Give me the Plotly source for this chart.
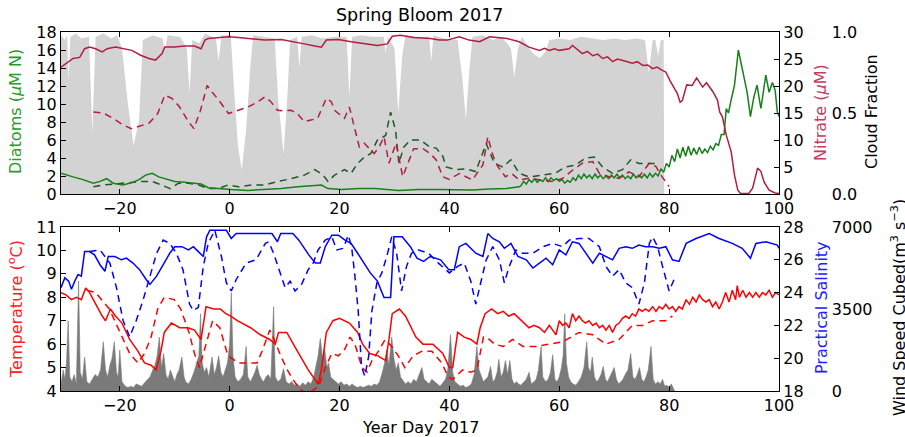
import plotly.graph_objects as go

# ---------------- DATA ----------------
# Top panel
cloud_day = [-30.7, -30, -29.6, -29.3, -29.0, -28, -27, -25.6, -25.0, -24.4, -23, -21.5, -20.5, -19.6, -18.5,
             -17.5, -16.5, -15.8, -14, -12.2, -11.8, -11.3, -9, -7.8, -7.3, -6.8, -5.5, -4.5, -2.5, -2.0, -1.5,
             0.2, 0.7, 1.5, 2.2, 3.0, 3.8, 4.3, 6, 8.2, 8.8, 9.8, 10.5, 11.0, 12.3, 12.7, 13.1, 15, 17, 19,
             21.3, 21.8, 22.3, 24, 26, 28.1, 28.4, 28.8, 30, 30.7, 31.4, 32, 34, 36.3, 36.7, 37.1, 39, 41.5,
             42.4, 43.0, 43.6, 44.2, 46, 48, 49.5, 51.2, 51.8, 52.5, 53.2, 54.5, 55.5, 56.5, 57.5, 58.2, 60,
             62, 64, 66, 68, 70, 72, 74, 75.6, 76.3, 77.0, 77.5, 78.0, 78.5, 79.0, 79.1]
cloud_val = [0.98, 0.95, 0.98, 0.7, 0.97, 0.99, 0.96, 0.97, 0.38, 0.97, 0.99, 0.96, 0.98, 0.9, 0.55,
             0.3, 0.45, 0.95, 0.98, 0.96, 0.88, 0.98, 0.97, 0.9, 0.62, 0.95, 0.93, 0.99, 0.96, 0.82, 0.98,
             0.98, 0.7, 0.3, 0.15, 0.4, 0.8, 0.98, 0.97, 0.96, 0.6, 0.25, 0.6, 0.95, 0.97, 0.78, 0.97, 0.98, 0.96, 0.97,
             0.97, 0.6, 0.97, 0.98, 0.97, 0.97, 0.87, 0.97, 0.9, 0.5, 0.85, 0.98, 0.97, 0.97, 0.82, 0.98, 0.96, 0.95,
             0.7, 0.46, 0.75, 0.97, 0.98, 0.95, 0.97, 0.9, 0.72, 0.9, 0.97, 0.9, 0.86, 0.84, 0.88, 0.95, 0.96,
             0.95, 0.97, 0.96, 0.95, 0.96, 0.95, 0.96, 0.95, 0.75, 0.95, 0.95, 0.85, 0.95, 0.95, 0.0]

diat_day = [-30.7, -29.7, -28.5, -26.7, -24.8, -23.6, -22.4, -21.2, -19.4, -17.6, -16.5, -15.3, -14.1, -12.9,
            -11.7, -10, -8.2, -6.4, -5.2, -3.9, -2.1, 0.3, 3.3, 6.4, 9.4, 12.4, 15.5, 16.7, 17.9, 20.4, 23.5,
            26.5, 30.7, 34.4, 38, 41.2, 44.2, 47.3, 50.3, 52.7,
            53, 53.5, 54, 54.5, 55, 55.5, 56, 56.5, 57, 57.5, 58, 58.5, 59, 59.5, 60, 60.5, 61, 61.5, 62, 62.5,
            63, 63.5, 64, 64.5, 65, 65.5, 66, 66.5, 67, 67.5, 68, 68.5, 69, 69.5, 70, 70.5, 71, 71.5, 72, 72.5,
            73, 73.5, 74, 74.5, 75, 75.5, 76, 76.5, 77, 77.5, 78, 78.5, 79, 79.5, 80, 80.5, 81, 81.5, 82, 82.5,
            83, 83.5, 84, 84.5, 85, 85.5, 86, 86.5, 87, 87.5, 88, 88.5, 89, 89.5, 90, 90.4, 90.8, 91.2, 91.9,
            92.6, 93.3, 93.8, 94.2, 94.8, 95.4, 96.0, 96.7, 97.6, 98.2, 98.8, 99.3, 99.7, 100]
diat_val = [2.3, 2.1, 1.9, 1.6, 1.2, 1.4, 1.7, 1.2, 1.0, 1.3, 1.6, 2.1, 2.3, 1.9,
            1.7, 1.4, 1.3, 1.2, 1.1, 0.7, 0.6, 0.5, 0.4, 0.5, 0.6, 0.8, 1.0, 1.0, 0.6, 0.5, 0.6,
            0.6, 0.4, 0.5, 0.5, 0.45, 0.45, 0.55, 0.6, 0.8,
            0.9, 1.4, 1.1, 1.6, 1.3, 1.7, 1.3, 1.6, 1.4, 1.8, 1.4, 1.8, 1.5, 1.7, 1.4, 1.6, 1.2, 1.5, 1.3, 1.8,
            1.5, 2.1, 1.7, 2.2, 1.8, 2.1, 1.7, 2.2, 1.8, 2.1, 1.7, 2.0, 1.7, 2.1, 1.8, 2.2, 1.8, 2.1, 1.7, 2.0,
            1.7, 2.2, 1.8, 2.1, 1.8, 2.2, 1.8, 2.3, 1.9, 2.3, 2.0, 2.8, 2.4, 3.4, 3.0, 4.3, 3.6, 5.0, 4.0, 5.2,
            4.2, 5.3, 4.3, 5.1, 4.4, 5.2, 4.5, 5.0, 4.6, 5.3, 4.9, 5.6, 5.4, 6.6, 6.6, 9.5, 9.0, 10.2, 12.1,
            16.0, 14.0, 12.8, 11.3, 8.6, 10.7, 12.1, 9.5, 13.2, 11.3, 12.4, 11.5, 9.1, 8.6]

diat2_day = [-24.8, -23, -21.2, -19.4, -17.6, -15.8, -14.1, -12.3, -10.8, -9.3, -7.5, -5.6, -3.9, -2.1, -0.3,
             1.6, 4, 6.4, 8.8, 11.2, 13.6, 15.5, 17, 17.9, 19.1, 20.9, 22.1, 23.3, 24.5, 25.7, 26.9, 28.4,
             29.3, 30.2, 30.8, 31.7, 32.9, 34.7, 36.5, 37.6, 38.8, 39.4, 41.2, 43, 44.8, 46.7, 48.2, 49.7,
             51.2, 52.7, 54.5, 56.9, 59.3, 61.1, 62.9, 64.8, 66.4, 67.9, 69.7, 71.5, 73, 74.5, 76.4, 77.9]
diat2_val = [0.8, 1.0, 1.1, 1.2, 1.3, 1.4, 1.4, 1.0, 0.6, 1.2, 1.2, 1.0, 0.6, 0.6, 1.0,
             0.8, 1.0, 1.0, 1.4, 1.7, 2.1, 2.7, 2.1, 1.4, 2.1, 2.7, 2.3, 3.4, 4.1, 4.5, 6.0, 6.5,
             9.1, 7.1, 3.4, 5.2, 6.0, 6.0, 5.2, 5.1, 4.2, 3.0, 2.7, 2.8, 2.5, 5.6, 3.4, 3.0,
             3.8, 2.3, 1.9, 2.1, 2.3, 3.0, 3.2, 4.0, 4.1, 3.0, 2.3, 2.7, 3.8, 3.4, 3.4, 3.4]

nit_day = [-30.7, -29.7, -28.5, -27.3, -26.4, -25.5, -24.4, -23.2, -22.3, -20.8, -19.3, -17.8, -16.2, -14.7,
           -13.5, -12.3, -11.8, -10, -8.2, -6.4, -5.2, -4.5, -3.9, -2.1, -0.2, 1.6, 3.3, 6.4, 9.4, 11.2, 13.6,
           15.5, 16.7, 17.6, 19.8, 22.1, 24.5, 26.9, 28.7, 29.6, 31.1, 33.5, 36.5, 38.2, 39.6, 41.8, 43.6, 45.5,
           47.3, 50.5, 52.7, 54.5, 56.4, 57.3, 58.2, 59.1, 60, 61.8, 62.4, 63.3, 64.2, 65.1, 66.1, 67, 67.9,
           68.8, 69.7, 70.6, 71.5, 72.4, 73.3, 74.2, 75.2, 76.1, 77, 77.8, 78.6, 79.4, 80.2, 81.5, 82.0, 82.4,
           83.2, 84.2, 85.0, 86.1, 86.8, 87.5, 88.0, 88.8, 89.2, 89.7, 90.4, 91.3, 91.9, 92.5, 93.0, 94.5,
           95.2, 96.1, 96.7, 97.3, 98.2, 99.3, 100]
nit_val = [23.5, 24.2, 25.1, 25.3, 26.9, 27.2, 26.9, 26.3, 26.9, 27.2, 26.9, 26.6, 25.7, 25.1,
           24.8, 26.0, 27.2, 27.2, 27.4, 27.4, 26.9, 28.5, 28.8, 29.0, 29.1, 29.0, 28.8, 28.5, 28.6, 28.2, 27.8,
           27.4, 27.2, 28.5, 28.6, 28.2, 27.8, 27.5, 27.8, 29.2, 29.4, 29.0, 28.8, 28.5, 28.5, 29.1, 28.5, 28.2,
           29.1, 28.8, 28.2, 27.2, 26.6, 27.0, 26.6, 26.9, 26.6, 26.9, 27.5, 26.7, 26.0, 26.4, 25.6, 25.9, 25.1,
           25.4, 24.5, 25.0, 24.8, 24.5, 24.2, 24.5, 23.8, 23.9, 23.2, 23.5, 23.0, 22.6, 20.9, 18.6, 17.0, 17.3,
           20.2, 20.1, 21.5, 19.8, 20.6, 19.6, 18.9, 17.4, 15.2, 14.3, 10.9, 7.8, 3.5, 0.7, 0.1, 0.1,
           1.1, 4.8, 4.2, 2.2, 0.7, 0.2, 0.1]

nit2_day = [-24.8, -23, -21.2, -19.4, -17.9, -16.4, -14.7, -13.1, -11.8, -10.5, -9.1, -7.5, -6.5, -5.3, -4.1,
            -3.2, -2.0, -0.2, 1.6, 3.3, 5.2, 6.4, 7.5, 8.7, 9.9, 11.2, 12.3, 13.6, 14.8, 16, 17.6, 18.5, 19.1,
            20.9, 21.8, 22.7, 23.6, 24.5, 26.3, 27.2, 28.1, 29, 30.3, 31.5, 32.4, 33.5, 35.2, 36.5, 37.6, 38.8,
            40, 41.8, 44.2, 46.1, 47, 47.9, 48.8, 50.2, 51.3, 52.7, 54.5, 56.4, 58.8, 60.6, 62.4, 64.2, 66.1,
            67.3, 69.1, 70.9, 72.7, 74.5, 76.4, 77.6, 78.5, 80]
nit2_val = [15.2, 15.0, 14.0, 12.8, 12.1, 12.6, 13.1, 14.9, 18.3, 17.7, 16.1, 13.4, 12.1, 15.5, 20.1,
            18.9, 17.4, 14.9, 15.5, 16.1, 17.1, 18.0, 17.1, 15.5, 15.4, 15.5, 14.9, 13.4, 13.7, 14.0, 17.7, 17.1, 15.5,
            14.0, 16.1, 12.4, 8.7, 9.4, 7.5, 8.7, 10.6, 5.7, 9.4, 3.2, 5.7, 8.4, 8.4, 7.5, 6.3, 3.2,
            2.7, 3.8, 2.6, 5.4, 10.6, 7.2, 5.1, 3.2, 3.8, 2.6, 2.9, 2.6, 2.3, 2.9, 4.4, 5.7, 6.0,
            3.8, 3.2, 2.9, 4.1, 3.2, 5.7, 5.1, 3.5, 1.4]

# Bottom panel
wind_day = [-30.7, -30.3, -30, -29.7, -29.4, -29.1, -28.7, -28.3, -27.9, -27.5, -27.2, -26.8, -26.4, -26, -25.5,
            -25, -24.5, -24, -23.5, -23, -22.6, -22.2, -21.8, -21.4, -21, -20.6, -20.3, -20, -19.6, -19, -18.5,
            -18, -17.5, -17, -16.5, -16, -15.5, -15, -14.5, -14, -13.6, -13.2, -12.8, -12.4, -12, -11.6, -11.2,
            -10.8, -10.4, -10, -9.6, -9.2, -8.7, -8.3, -8, -7.5, -7, -6.5, -6, -5.6, -5.3, -5, -4.6, -4.2, -3.8,
            -3.2, -2.8, -2.4, -2, -1.6, -1.2, -0.8, -0.4, 0, 0.3, 0.6, 1, 1.5, 2, 2.5, 3, 3.3, 3.8, 4.2, 4.6, 5,
            5.4, 5.8, 6.2, 6.6, 7, 7.5, 8, 8.3, 8.8, 9.3, 9.8, 10.3, 10.8, 11.3, 11.8, 12.3, 12.8, 13.3, 13.8,
            14.3, 14.8, 15.3, 15.7, 16.1, 16.5, 16.9, 17.3, 17.7, 18, 18.4, 18.8, 19.3, 19.8, 20.3, 20.8, 21.3,
            21.8, 22.3, 22.8, 23.3, 23.8, 24.3, 24.8, 25.3, 25.8, 26.3, 26.8, 27.3, 27.8, 28.2, 28.6, 29, 29.5,
            29.9, 30.3, 30.7, 31.1, 31.6, 32, 32.5, 33, 33.5, 34, 34.5, 35, 35.4, 35.8, 36.3, 36.8, 37.3, 37.8,
            38.3, 38.8, 39.3, 39.7, 40.2, 40.6, 41, 41.5, 42, 42.5, 43, 43.5, 44, 44.5, 45, 45.4, 45.8, 46.2,
            46.6, 47, 47.5, 47.9, 48.3, 48.7, 49, 49.4, 49.8, 50.2, 50.6, 51, 51.4, 51.8, 52.2, 52.6, 53, 53.5,
            54, 54.5, 54.9, 55.4, 55.8, 56.2, 56.7, 57, 57.5, 58, 58.4, 58.8, 59.2, 59.6, 60, 60.4, 60.7, 61,
            61.3, 61.7, 62.1, 62.5, 63, 63.5, 64, 64.5, 65, 65.3, 65.7, 66, 66.4, 66.8, 67.2, 67.6, 68, 68.4,
            68.8, 69.2, 69.6, 70, 70.4, 70.8, 71.2, 71.6, 72, 72.5, 73, 73.4, 73.8, 74.2, 74.6, 75, 75.4, 75.8,
            76.2, 76.7, 77.1, 77.5, 78, 78.4, 78.8, 79.2, 79.6, 80, 80.4, 80.8, 81]
wind_val = [300, 900, 500, 1200, 3000, 600, 400, 700, 300, 4700, 800, 500, 1450, 400, 300,
            500, 700, 600, 900, 2100, 900, 600, 1100, 1400, 2100, 800, 600, 1750, 400, 200, 150,
            200, 150, 300, 250, 200, 350, 500, 600, 900, 1100, 1500, 2300, 1000, 1600, 700, 500,
            900, 600, 400, 700, 900, 1450, 600, 400, 300, 500, 800, 1200, 1500, 3300, 1200, 800, 1000, 600,
            1450, 700, 1000, 1500, 800, 600, 900, 1200, 2000, 4200, 1500, 600, 400, 500, 700, 1900, 600, 400, 600, 800, 1100,
            700, 500, 400, 600, 700, 500, 3600, 600, 400, 500, 950, 400, 300, 400, 250, 300, 200, 350, 250,
            400, 300, 600, 1000, 1500, 2250, 1400, 1800, 1000, 1200, 600, 500, 400, 300, 400, 250, 300,
            200, 300, 200, 150, 200, 150, 200, 250, 200, 300, 250, 400, 800, 1200, 1750, 1100, 2300,
            1400, 900, 1200, 600, 400, 300, 400, 300, 500, 400, 700, 1000, 500, 400, 300, 500, 400, 300,
            200, 350, 500, 900, 2400, 800, 400, 300, 200, 250, 150, 200, 300, 700, 1900, 900, 600, 400,
            500, 600, 1050, 400, 500, 800, 1350, 600, 800, 1300, 700, 1300, 500, 300, 400, 300, 250, 400,
            500, 800, 300, 400, 500, 900, 1900, 600, 400, 500, 800, 1550, 500, 400, 600, 1000, 1500, 3300,
            1200, 600, 400, 300, 250, 400, 600, 1000, 2100, 1000, 800, 1450, 600, 400, 500, 700, 1050, 500,
            400, 600, 800, 1000, 500, 300, 400, 500, 700, 900, 1600, 600, 500, 700, 1000, 500, 400, 600,
            900, 1900, 500, 300, 400, 300, 500, 200, 250, 150, 300, 100, 0]

temp_day = [-30.7, -29.8, -28.8, -27.9, -27, -26.2, -25.5, -24.4, -23.2, -22.6, -21.7, -20.8, -19.6, -18.2, -16.7,
            -15.5, -14.3, -13.4, -12.5, -11.9, -10.6, -9.1, -7.6, -6.4, -5.2, -4.3, -2.9, -1.7, -0.7, 0.2, 1.4,
            3.8, 5.6, 7.3, 8.3, 8.9, 10.4, 11.6, 12.8, 14.3, 15.5, 16.1, 16.7, 17.6, 18.8, 20, 21.8, 23.3, 24.2,
            25.5, 27, 28.4, 29, 29.6, 30.9, 32, 33.9, 35.2, 37, 38.8, 40, 40.6, 41.5, 42.7, 43.9, 45.0, 45.6,
            46.5, 47.7, 48.8, 49.8, 50.8, 51.8, 52.7, 53.6, 54.5, 55.4, 56.4, 57.3, 58.2, 58.8, 59.4, 60, 60.6,
            61.2, 61.8, 62.4, 63, 63.6, 64.2, 64.8, 65.4, 66.1, 66.7, 67.3, 67.9, 68.5, 69.1, 69.7, 70.3, 70.9,
            71.5, 72.1, 72.7, 73.3, 73.9, 74.5, 75.1, 75.7, 76.3, 77, 77.6, 78.2, 78.8, 79.4, 80, 80.6, 81.2,
            81.8, 82.4, 83.1, 83.7, 84.3, 84.9, 85.5, 86.1, 86.7, 87.3, 87.9, 88.5, 89.1, 89.7, 90.3, 90.9,
            91.5, 92.1, 92.4, 92.8, 93.4, 94, 94.6, 95.2, 95.8, 96.4, 97, 97.6, 98.2, 98.8, 99.4, 100]
temp_val = [8.2, 8.1, 7.9, 8.0, 7.9, 8.4, 8.2, 7.7, 7.2, 7.0, 7.5, 7.2, 6.9, 6.2, 5.7,
            5.2, 5.1, 4.9, 5.7, 6.5, 6.9, 6.7, 6.7, 6.6, 6.2, 7.6, 7.5, 7.5, 7.3, 7.2, 7.0,
            6.7, 6.4, 6.2, 6.0, 6.5, 6.5, 6.0, 5.5, 4.9, 4.5, 4.3, 4.9, 6.5, 7.0, 7.1, 6.9, 6.5, 6.0,
            5.6, 5.5, 5.3, 6.2, 7.3, 7.5, 7.2, 6.3, 6.0, 6.0, 5.6, 5.0, 5.0, 6.5, 6.3, 6.2, 6.0, 6.7,
            7.3, 7.5, 7.3, 7.4, 7.2, 7.3, 7.1, 6.9, 6.7, 6.8, 6.7, 6.5, 6.8, 6.6, 6.4, 7.0, 6.8,
            6.9, 6.7, 7.3, 7.0, 7.2, 7.0, 6.9, 7.0, 6.8, 6.9, 6.7, 6.8, 6.6, 6.8, 6.5, 6.8, 6.9,
            7.1, 7.2, 7.1, 7.3, 7.2, 7.5, 7.4, 7.5, 7.4, 7.6, 7.4, 7.6, 7.5, 7.7, 7.5, 7.6, 7.4,
            7.6, 7.5, 7.9, 7.7, 8.0, 7.8, 8.1, 7.9, 7.8, 7.9, 7.6, 7.8, 7.5, 7.8, 8.2, 7.8,
            8.3, 7.9, 8.5, 8.0, 8.3, 8.0, 8.2, 8.0, 8.2, 8.0, 8.2, 8.1, 8.3, 8.0, 8.2, 8.1]

temp2_day = [-26, -24.4, -21.9, -19.6, -18.2, -16.7, -15.5, -14.3, -13.1, -11.9, -10.1, -8.9, -7.4, -6.4, -5.5,
             -4.3, -3.1, -1.8, -0.3, 1.6, 3.3, 5.0, 5.9, 7.3, 8.1, 9.3, 10.5, 11.5, 12.7, 13.9, 15, 16.2, 17.4,
             18.6, 19.8, 21, 21.9, 22.8, 24.1, 25, 25.9, 27.1, 28.3, 29.5, 30.7, 31.9, 33.4, 35, 36.8, 38.6,
             39.8, 40.6, 42.4, 43.9, 45, 46.2, 46.8, 48.2, 49.8, 51.5, 53.4, 55.8, 58.2, 60.6, 63.6, 66.1, 68.5,
             70.9, 73.3, 75.2, 77, 79.4, 80.6]
temp2_val = [8.3, 8.2, 7.5, 6.3, 5.6, 5.2, 5.6, 6.3, 7.5, 8.0, 7.9, 7.5, 6.5, 5.6, 5.0,
             6.0, 7.0, 6.7, 5.5, 5.2, 5.2, 5.2, 5.7, 6.6, 6.2, 5.5, 4.9, 4.5, 4.1, 3.9, 4.0, 4.2, 5.0,
             5.6, 5.5, 5.8, 6.3, 6.0, 5.0, 4.8, 5.3, 5.7, 6.2, 5.9, 5.5, 5.0, 5.5, 5.7, 5.7, 5.2,
             4.6, 4.5, 4.9, 4.8, 4.9, 6.3, 6.3, 6.0, 5.9, 6.2, 5.9, 5.9, 6.0, 6.1, 6.5, 6.4, 6.0,
             6.2, 6.8, 6.8, 7.0, 7.0, 7.2]

sal_day = [-30.7, -30, -29.3, -28.8, -28.2, -27.6, -27, -26.4, -25.5, -24.6, -23.6, -22.7, -22.1, -20.9, -19.7,
           -18.8, -17.6, -16.4, -15.2, -14.5, -13.3, -12.1, -10.9, -10, -8.7, -7.5, -6.6, -5.7, -4.8, -4.2,
           -3.6, -1.8, -0.6, 0.3, 1.2, 3.0, 5.5, 7.7, 8.7, 9.3, 11.5, 12.6, 14.4, 15.6, 16.5, 17.4, 18.6, 19.8,
           21, 22.1, 23.3, 24.5, 25.6, 26.9, 28.1, 29.3, 29.9, 31.4, 32.9, 34.1, 35.3, 36.5, 38.4, 39.9, 40.9,
           41.8, 43.0, 44.8, 46.1, 47, 47.9, 49.1, 50, 51.2, 52.5, 54, 55.2, 56.4, 57.6, 58.8, 60, 61.2, 62.4,
           63.6, 64.8, 66.1, 67.3, 68.5, 69.7, 70.9, 72.1, 73.3, 74.5, 75.7, 77, 78.2, 79.4, 80.6, 81.8, 83.1,
           84.9, 87.3, 89.1, 91.5, 93.3, 94.8, 95.8, 97.6, 99.7, 100]
sal_val = [24.3, 24.9, 24.7, 24.2, 24.7, 25.1, 25.0, 26.5, 26.5, 26.3, 25.7, 25.3, 26.2, 26.2, 26.0,
           26.1, 25.8, 25.4, 24.8, 24.5, 25.0, 25.7, 26.4, 26.8, 26.8, 26.6, 26.8, 26.5, 26.2, 27.4,
           27.8, 27.8, 27.8, 27.3, 27.6, 27.6, 27.6, 27.6, 27.1, 27.6, 27.6, 27.2, 26.3, 25.8, 25.8, 26.8, 27.5, 27.5,
           27.2, 27.0, 26.4, 25.8, 25.2, 24.7, 23.7, 23.7, 27.4, 27.4, 26.8, 26.1, 25.9, 26.2, 26.0, 25.4, 25.4,
           26.8, 27.0, 26.4, 26.2, 27.6, 27.3, 27.1, 26.7, 27.0, 26.2, 26.0, 25.5, 25.8, 26.1, 25.7, 26.6, 26.3, 27.1,
           27.0, 26.4, 25.8, 26.4, 26.2, 26.0, 26.7, 26.8, 26.7, 26.9, 26.8, 26.8, 26.7, 26.8, 26.0, 25.9, 27.0,
           27.3, 27.6, 27.3, 27.0, 26.7, 26.1, 27.0, 27.1, 26.9, 26.7]

sal2_day = [-25.5, -23.6, -21.8, -20.6, -19.4, -18.2, -17, -15.8, -14.5, -13.3, -12.1, -10.9, -9.7, -8.5, -7.3,
            -6.6, -5.7, -4.8, -3.9, -2.7, -1.5, -0.6, 0.3, 1.2, 3, 4.8, 6.5, 7.1, 8.0, 9.2, 10.1, 11.0, 11.9,
            13.1, 14.3, 15.2, 16.1, 17.4, 18.6, 19.5, 20.7, 21.6, 22.2, 22.8, 23.4, 24, 24.6, 25.3, 25.9, 26.8,
            27.7, 28.6, 29.5, 30.4, 31.3, 32.2, 33.1, 34.4, 36.2, 38, 40, 41.5, 42.7, 43.9, 44.8, 45.7, 46.7,
            47.9, 49.1, 50, 50.9, 52.1, 53.3, 55.2, 57, 58.8, 60.6, 61.8, 63.6, 65.4, 67.3, 68.5, 69.7, 70.9,
            72.1, 73.3, 74.5, 75.5, 76.4, 77, 77.9, 78.8, 80, 80.9]
sal2_val = [26.5, 26.6, 25.8, 24.3, 22.3, 21.3, 22.3, 23.5, 25.0, 26.4, 27.2, 27.0, 26.4, 25.4, 23.3,
            22.9, 23.1, 25.6, 27.0, 27.8, 26.2, 24.6, 24.1, 24.8, 25.8, 26.0, 27.0, 27.1, 26.4, 25.2, 24.3, 24.7, 24.1,
            24.5, 25.4, 25.8, 26.6, 27.2, 27.4, 26.6, 26.7, 27.5, 26.8, 25.0, 22.9, 19.5, 18.9, 20.1, 22.9, 24.6,
            25.2, 26.2, 27.4, 26.4, 24.1, 25.6, 26.4, 26.6, 26.4, 25.8, 25.2, 25.6, 25.8, 24.7, 23.3, 24.6, 26.0,
            26.8, 26.0, 24.6, 25.6, 26.6, 26.4, 26.4, 26.8, 27.0, 26.8, 27.2, 27.3, 27.3, 26.8, 25.6, 25.0, 25.4,
            24.6, 24.3, 23.3, 24.6, 27.0, 27.4, 26.8, 25.6, 24.1, 24.8]

x_ticks = [-20, 0, 20, 40, 60, 80, 100]

# ---------------- STYLE ----------------
W, H = 905, 437
L, R = 61, 779
TOP1, BOT1 = 32, 194
TOP2, BOT2 = 227, 391
FONT = "DejaVu Sans"
C_DIAT = "#17801a"
C_NIT = "#b31d40"
C_TEMP = "#ff0000"
C_SAL = "#0000ff"

def px(x):
    return x / W

def py(y):
    return 1 - y / H

fig = go.Figure()

# top panel
fig.add_trace(go.Scatter(x=cloud_day, y=cloud_val, xaxis="x", yaxis="y", mode="lines",
                         line=dict(width=0, color="#d3d3d3"), fill="tozeroy", fillcolor="#d3d3d3"))
fig.add_trace(go.Scatter(x=nit2_day, y=nit2_val, xaxis="x", yaxis="y3", mode="lines",
                         line=dict(width=1.5, color=C_NIT, dash="7px,5px")))
fig.add_trace(go.Scatter(x=diat2_day, y=diat2_val, xaxis="x", yaxis="y2", mode="lines",
                         line=dict(width=1.5, color="#1f5a24", dash="7px,5px")))
fig.add_trace(go.Scatter(x=nit_day, y=nit_val, xaxis="x", yaxis="y3", mode="lines",
                         line=dict(width=1.5, color=C_NIT)))
fig.add_trace(go.Scatter(x=diat_day, y=diat_val, xaxis="x", yaxis="y2", mode="lines",
                         line=dict(width=1.5, color=C_DIAT)))

# bottom panel
fig.add_trace(go.Scatter(x=wind_day, y=wind_val, xaxis="x2", yaxis="y4", mode="lines",
                         line=dict(width=0.6, color="#7a7a7a"), fill="tozeroy", fillcolor="#7a7a7a"))
fig.add_trace(go.Scatter(x=temp2_day, y=temp2_val, xaxis="x2", yaxis="y5", mode="lines",
                         line=dict(width=1.5, color=C_TEMP, dash="7px,5px")))
fig.add_trace(go.Scatter(x=temp_day, y=temp_val, xaxis="x2", yaxis="y5", mode="lines",
                         line=dict(width=1.5, color=C_TEMP)))
fig.add_trace(go.Scatter(x=sal2_day, y=sal2_val, xaxis="x2", yaxis="y6", mode="lines",
                         line=dict(width=1.5, color=C_SAL, dash="7px,5px")))
fig.add_trace(go.Scatter(x=sal_day, y=sal_val, xaxis="x2", yaxis="y6", mode="lines",
                         line=dict(width=1.5, color=C_SAL)))

tickfont = dict(family=FONT, size=16, color="black")
common_x = dict(domain=[px(L), px(R)], range=[-30.7, 100], tickvals=x_ticks, ticks="inside", ticklen=5,
                showline=True, linecolor="black", linewidth=1.3, mirror="ticks", showgrid=False,
                zeroline=False, tickfont=tickfont, tickcolor="black", automargin=False)
common_y = dict(ticks="inside", ticklen=5, showline=True, linecolor="black", linewidth=1.3, showgrid=False,
                zeroline=False, tickfont=tickfont, tickcolor="black", automargin=False)
free_y = dict(anchor="free", position=0.918, side="right", showline=False, ticks="", showgrid=False,
              zeroline=False, tickfont=tickfont, automargin=False)

fig.update_layout(
    width=W, height=H, margin=dict(l=0, r=0, t=0, b=0, autoexpand=False), showlegend=False,
    plot_bgcolor="white", paper_bgcolor="white", font=dict(family=FONT, size=16, color="black"),
    xaxis=dict(anchor="y", **common_x),
    xaxis2=dict(anchor="y4", **common_x),
    yaxis=dict(domain=[py(BOT1), py(TOP1)], range=[0, 1], tickvals=[0, 0.5, 1],
               ticktext=["0.0", "0.5", "1.0"], **free_y),
    yaxis2=dict(overlaying="y", anchor="x", side="left", range=[0, 18], tickvals=list(range(0, 19, 2)),
                **common_y),
    yaxis3=dict(overlaying="y", anchor="x", side="right", range=[0, 30], tickvals=list(range(0, 31, 5)),
                **common_y),
    yaxis4=dict(domain=[py(BOT2), py(TOP2)], range=[0, 7000], tickvals=[0, 3500, 7000], **free_y),
    yaxis5=dict(overlaying="y4", anchor="x2", side="left", range=[4, 11], tickvals=list(range(4, 12)),
                **common_y),
    yaxis6=dict(overlaying="y4", anchor="x2", side="right", range=[18, 28], tickvals=list(range(18, 29, 2)),
                **common_y),
)

def ann(text, x, y, color="black", angle=0, size=16):
    fig.add_annotation(text=text, x=px(x), y=py(y), xref="paper", yref="paper", showarrow=False,
                       textangle=angle, xanchor="center", yanchor="middle",
                       font=dict(family=FONT, size=size, color=color))

ann("Spring Bloom 2017", 419, 15, size=17.5)
ann("Year Day 2017", 420, 427)
ann("Diatoms (<i>μ</i>M N)", 15, 112, color="#2a9a2a", angle=-90)
ann("Nitrate (<i>μ</i>M)", 821, 113, color="#c04060", angle=-90)
ann("Cloud Fraction", 871, 112, angle=-90)
ann("Temperature (<sup>o</sup>C)", 15, 309, color="#ff2020", angle=-90)
ann("Practical Salinity", 821, 308, color="#2020ff", angle=-90)
ann("Wind Speed Cubed(m<sup>3</sup> s<sup>−3</sup>)", 898, 308, angle=-90)

fig.write_html("out.html")
